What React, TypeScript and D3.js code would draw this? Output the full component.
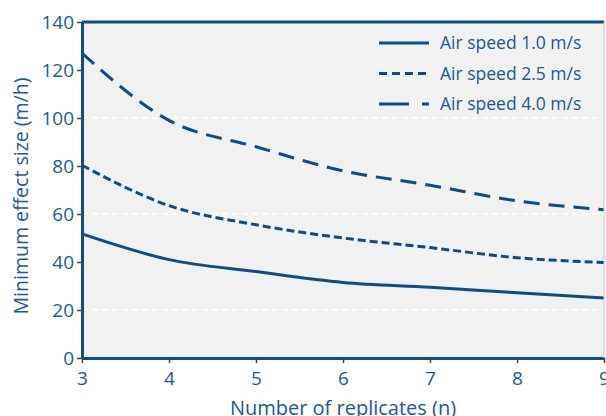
import React, { useEffect, useRef } from "react";
import * as d3 from "d3";

const replicates = [3, 4, 5, 6, 7, 8, 9];
const speed10 = [51.7, 41, 36, 31.5, 29.5, 27.2, 25];
const speed25 = [80.3, 63.5, 55.5, 50, 46, 41.8, 39.8];
const speed40 = [127, 99, 88, 78, 72, 65.5, 61.8];
const seriesNames = ["Air speed 1.0 m/s", "Air speed 2.5 m/s", "Air speed 4.0 m/s"];
const yTicks = [0, 20, 40, 60, 80, 100, 120, 140];
const gridValues = [20, 60, 100];

const BLUE = "#0b4d8a";
const TEXT = "#1a5a96";
const FONT = "'Open Sans', 'DejaVu Sans', sans-serif";

export default function App() {
  const svgRef = useRef<SVGSVGElement>(null);

  useEffect(() => {
    const margin = { top: 22, right: 2, bottom: 58, left: 82 };
    const W = 606;
    const H = 416;
    const width = W - margin.left - margin.right;
    const height = H - margin.top - margin.bottom;

    const root = d3.select(svgRef.current);
    root.selectAll("*").remove();
    root.attr("width", W).attr("height", H);

    const svg = root
      .append("g")
      .attr("transform", `translate(${margin.left},${margin.top})`);

    const x = d3.scaleLinear().domain([3, 9]).range([0, width]);
    const y = d3.scaleLinear().domain([0, 140]).range([height, 0]);

    // plot background
    svg
      .append("rect")
      .attr("width", width)
      .attr("height", height)
      .attr("fill", "#f1f1f1");

    // white dashed grid lines
    svg
      .append("g")
      .selectAll("line")
      .data(gridValues)
      .join("line")
      .attr("x1", 0)
      .attr("x2", width)
      .attr("y1", (d) => y(d))
      .attr("y2", (d) => y(d))
      .attr("stroke", "#ffffff")
      .attr("stroke-width", 2)
      .attr("stroke-dasharray", "6,4");

    const series = [
      { name: seriesNames[0], values: speed10, dash: null, legendDash: null },
      { name: seriesNames[1], values: speed25, dash: "8,4", legendDash: "8,5" },
      { name: seriesNames[2], values: speed40, dash: "16,9", legendDash: "30,13" },
    ];

    const line = d3
      .line<number>()
      .x((_, i) => x(replicates[i]))
      .y((d) => y(d))
      .curve(d3.curveMonotoneX);

    svg
      .append("g")
      .selectAll("path")
      .data(series)
      .join("path")
      .attr("d", (d) => line(d.values))
      .attr("fill", "none")
      .attr("stroke", BLUE)
      .attr("stroke-width", 3)
      .attr("stroke-dasharray", (d) => d.dash);

    // axes
    const xAxis = svg
      .append("g")
      .attr("transform", `translate(0,${height})`)
      .call(d3.axisBottom(x).tickValues(replicates).tickFormat(d3.format("d")).tickSize(5).tickSizeOuter(0));
    const yAxis = svg
      .append("g")
      .call(d3.axisLeft(y).tickValues(yTicks).tickSize(5).tickSizeOuter(0));

    [xAxis, yAxis].forEach((a) => {
      a.select(".domain").attr("stroke", BLUE).attr("stroke-width", 3);
      a.selectAll(".tick line").attr("stroke", "#444").attr("stroke-width", 1.5);
      a.selectAll(".tick text")
        .attr("fill", TEXT)
        .attr("font-family", FONT)
        .attr("font-size", 19);
    });
    xAxis.selectAll(".tick text").attr("dy", "1.0em");
    yAxis.selectAll(".tick text").attr("x", -8);

    // top border and thin right border
    svg
      .append("line")
      .attr("x1", 0)
      .attr("x2", width)
      .attr("y1", 0)
      .attr("y2", 0)
      .attr("stroke", BLUE)
      .attr("stroke-width", 3);
    svg
      .append("line")
      .attr("x1", width)
      .attr("x2", width)
      .attr("y1", 0)
      .attr("y2", height)
      .attr("stroke", "#b8c8d8")
      .attr("stroke-width", 1);

    // axis titles
    root
      .append("text")
      .attr("x", margin.left + width / 2)
      .attr("y", 415)
      .attr("text-anchor", "middle")
      .attr("fill", TEXT)
      .attr("font-family", FONT)
      .attr("font-size", 20)
      .text("Number of replicates (n)");
    root
      .append("text")
      .attr("transform", `translate(28,196) rotate(-90)`)
      .attr("text-anchor", "middle")
      .attr("fill", TEXT)
      .attr("font-family", FONT)
      .attr("font-size", 19.5)
      .text("Minimum effect size (m/h)");

    // legend
    const legend = root.append("g").attr("transform", "translate(379,43)");
    const rows = legend
      .selectAll("g")
      .data(series)
      .join("g")
      .attr("transform", (_, i) => `translate(0,${i * 30.5})`);
    rows
      .append("line")
      .attr("x1", 0)
      .attr("x2", 50)
      .attr("stroke", BLUE)
      .attr("stroke-width", 3)
      .attr("stroke-dasharray", (d) => d.legendDash);
    rows
      .append("text")
      .attr("x", 61)
      .attr("y", 6)
      .attr("fill", TEXT)
      .attr("font-family", FONT)
      .attr("font-size", 17.5)
      .text((d) => d.name);
  }, []);

  return (
    <svg
      ref={svgRef}
      style={{ position: "absolute", left: 0, top: 0, background: "#fff" }}
    ></svg>
  );
}
